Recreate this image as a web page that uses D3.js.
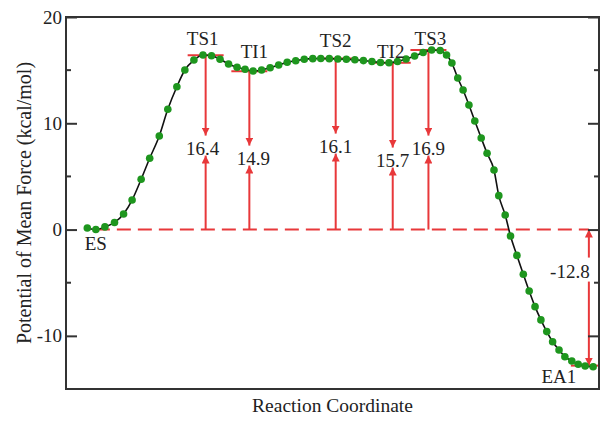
<!DOCTYPE html>
<html>
<head>
<meta charset="utf-8">
<script src="https://cdn.jsdelivr.net/npm/d3@7"></script>
<style>
  body { margin: 0; background: #fff; }
  text { font-family: "Liberation Serif", "Times New Roman", serif; fill: #222; }
</style>
</head>
<body>
<svg id="chart" width="613" height="421"></svg>
<script>
// reaction coordinate (arbitrary units) and PMF (kcal/mol) of each sampled window
const rxn = [4.0, 5.6, 7.3, 9.1, 10.8, 12.4, 14.1, 15.7, 17.5, 19.1, 20.8, 22.3, 24.0, 25.7, 27.3,
  28.9, 30.5, 32.1, 33.6, 35.1, 36.7, 38.3, 39.9, 41.5, 43.1, 44.7, 46.3, 47.8, 49.4, 51.0,
  52.6, 54.2, 55.8, 57.4, 59.0, 60.6, 62.2, 63.8, 65.4, 67.0, 68.6, 70.2, 71.4, 72.4, 73.5,
  74.5, 75.6, 76.7, 77.9, 79.0, 80.3, 81.2, 82.4, 83.4, 84.6, 85.8, 86.9, 88.0, 89.1, 90.2,
  91.3, 92.5, 93.6, 94.9, 96.1, 97.4, 98.9];
const pmf = [0.15, 0.0, 0.25, 0.67, 1.47, 2.78, 4.73, 6.71, 8.81, 11.32, 13.44, 15.01, 15.95, 16.42, 16.36,
  16.02, 15.58, 15.27, 15.08, 14.92, 15.01, 15.23, 15.48, 15.74, 15.89, 16.02, 16.08, 16.1, 16.08, 16.05,
  16.02, 15.98, 15.9, 15.81, 15.72, 15.7, 15.81, 16.05, 16.33, 16.66, 16.9, 16.85, 16.42, 15.67, 14.26,
  13.13, 11.72, 10.22, 8.62, 7.18, 5.61, 3.19, 1.37, -0.6, -2.43, -4.2, -5.78, -7.25, -8.5, -9.6,
  -10.55, -11.33, -11.96, -12.36, -12.67, -12.83, -12.9];

// stationary points
const stateNames = ["ES", "TS1", "TI1", "TS2", "TI2", "TS3", "EA1"];
const stateRxn = [5.6, 26.2, 34.4, 50.6, 61.3, 68.0, 98.1];
const stateE = [0.0, 16.4, 14.9, 16.1, 15.7, 16.9, -12.8];

const yMajor = [-10, 0, 10, 20];
const yMinor = [-15, -5, 5, 15];

// label nudges (px) - layout only
const nameDx = [0, -3, 5, 0, -2, 2, -30];
const nameDy = [20, -10, -13, -11, -5, -5, 17];
const numDx = [0, -3, 4, 0, 0, 0, -19];
const numDy = [0, -75, -65, -77, -63, -75, 48];

const W = 613, H = 421;
const box = { left: 66, right: 599, top: 17, bottom: 389 };
const RED = "#e8383a";

const svg = d3.select("#chart");
svg.append("rect").attr("width", W).attr("height", H).attr("fill", "#fff");

const x = d3.scaleLinear().domain([0, 100]).range([box.left, box.right]);
const y = d3.scaleLinear().domain([-15, 20]).range([box.bottom, box.top]);

const defs = svg.append("defs");
defs.append("marker")
  .attr("id", "arrow")
  .attr("viewBox", "0 0 10 10")
  .attr("refX", 10).attr("refY", 5)
  .attr("markerUnits", "userSpaceOnUse")
  .attr("markerWidth", 8).attr("markerHeight", 8)
  .attr("orient", "auto")
  .append("path").attr("d", "M0,0L10,5L0,10Z").attr("fill", RED);

// zero reference line
svg.append("line")
  .attr("x1", x(stateRxn[0])).attr("x2", x(stateRxn[6]))
  .attr("y1", y(0)).attr("y2", y(0))
  .attr("stroke", RED).attr("stroke-width", 2)
  .attr("stroke-dasharray", "14,7");

// level markers
const g = svg.append("g");
stateNames.forEach((name, i) => {
  if (i === 0) return;
  g.append("line")
    .attr("x1", x(stateRxn[i]) - 18).attr("x2", Math.min(x(stateRxn[i]) + 18, box.right))
    .attr("y1", y(stateE[i])).attr("y2", y(stateE[i]))
    .attr("stroke", RED).attr("stroke-width", 2);
});

// barrier arrows with values
for (let i = 1; i <= 5; i++) {
  const ax = x(stateRxn[i]);
  const base = y(0) + numDy[i];
  g.append("line")
    .attr("x1", ax).attr("x2", ax)
    .attr("y1", y(stateE[i])).attr("y2", base - 19)
    .attr("stroke", RED).attr("stroke-width", 2)
    .attr("marker-end", "url(#arrow)");
  g.append("line")
    .attr("x1", ax).attr("x2", ax)
    .attr("y1", y(0)).attr("y2", base + 1)
    .attr("stroke", RED).attr("stroke-width", 2)
    .attr("marker-end", "url(#arrow)");
  g.append("text")
    .attr("x", ax + numDx[i]).attr("y", base)
    .attr("text-anchor", "middle")
    .attr("font-size", 19)
    .text(stateE[i].toFixed(1));
}

// reaction energy arrow (EA1)
{
  const ax = x(stateRxn[6]);
  const base = y(0) + numDy[6];
  g.append("line")
    .attr("x1", ax).attr("x2", ax)
    .attr("y1", base - 20).attr("y2", y(0))
    .attr("stroke", RED).attr("stroke-width", 2)
    .attr("marker-end", "url(#arrow)");
  g.append("line")
    .attr("x1", ax).attr("x2", ax)
    .attr("y1", base + 4).attr("y2", y(stateE[6]))
    .attr("stroke", RED).attr("stroke-width", 2)
    .attr("marker-end", "url(#arrow)");
  g.append("text")
    .attr("x", ax + numDx[6]).attr("y", base)
    .attr("text-anchor", "middle")
    .attr("font-size", 19)
    .text(stateE[6].toFixed(1));
}

// PMF curve
const pts = rxn.map((r, i) => [r, pmf[i]]);
svg.append("path")
  .datum(pts)
  .attr("d", d3.line().x(d => x(d[0])).y(d => y(d[1])).curve(d3.curveMonotoneX))
  .attr("fill", "none").attr("stroke", "#111").attr("stroke-width", 1.6);

svg.append("g").selectAll("circle")
  .data(pts).join("circle")
  .attr("cx", d => x(d[0])).attr("cy", d => y(d[1]))
  .attr("r", 3.8)
  .attr("fill", "#1e961e");

// state names
stateNames.forEach((name, i) => {
  svg.append("text")
    .attr("x", x(stateRxn[i]) + nameDx[i])
    .attr("y", y(stateE[i]) + nameDy[i])
    .attr("text-anchor", "middle")
    .attr("font-size", 19)
    .text(name);
});

// frame
svg.append("rect")
  .attr("x", box.left).attr("y", box.top)
  .attr("width", box.right - box.left).attr("height", box.bottom - box.top)
  .attr("fill", "none").attr("stroke", "#333").attr("stroke-width", 2);

// y axes, ticks pointing inward on both sides
const left = svg.append("g").attr("transform", `translate(${box.left},0)`)
  .call(d3.axisLeft(y).tickValues(yMajor).tickSize(-11).tickPadding(4).tickFormat(d => String(d)));
const right = svg.append("g").attr("transform", `translate(${box.right},0)`)
  .call(d3.axisRight(y).tickValues(yMajor).tickSize(-11).tickFormat(""));
[left, right].forEach(a => {
  a.select(".domain").remove();
  a.selectAll(".tick line").attr("stroke", "#333").attr("stroke-width", 2);
});
left.selectAll(".tick text").attr("font-size", 19).attr("font-family", "Liberation Serif").attr("fill", "#222");

[[box.left, 1], [box.right, -1]].forEach(([bx, s]) => {
  svg.append("g").selectAll("line")
    .data(yMinor.filter(v => v > -15)).join("line")
    .attr("x1", bx).attr("x2", bx + s * 5)
    .attr("y1", d => y(d)).attr("y2", d => y(d))
    .attr("stroke", "#333").attr("stroke-width", 2);
});

// axis titles
svg.append("text")
  .attr("x", (box.left + box.right) / 2).attr("y", 412)
  .attr("text-anchor", "middle").attr("font-size", 19.5)
  .text("Reaction Coordinate");
svg.append("text")
  .attr("transform", `translate(31,${(box.top + box.bottom) / 2}) rotate(-90)`)
  .attr("text-anchor", "middle").attr("font-size", 20)
  .text("Potential of Mean Force (kcal/mol)");
</script>
</body>
</html>
